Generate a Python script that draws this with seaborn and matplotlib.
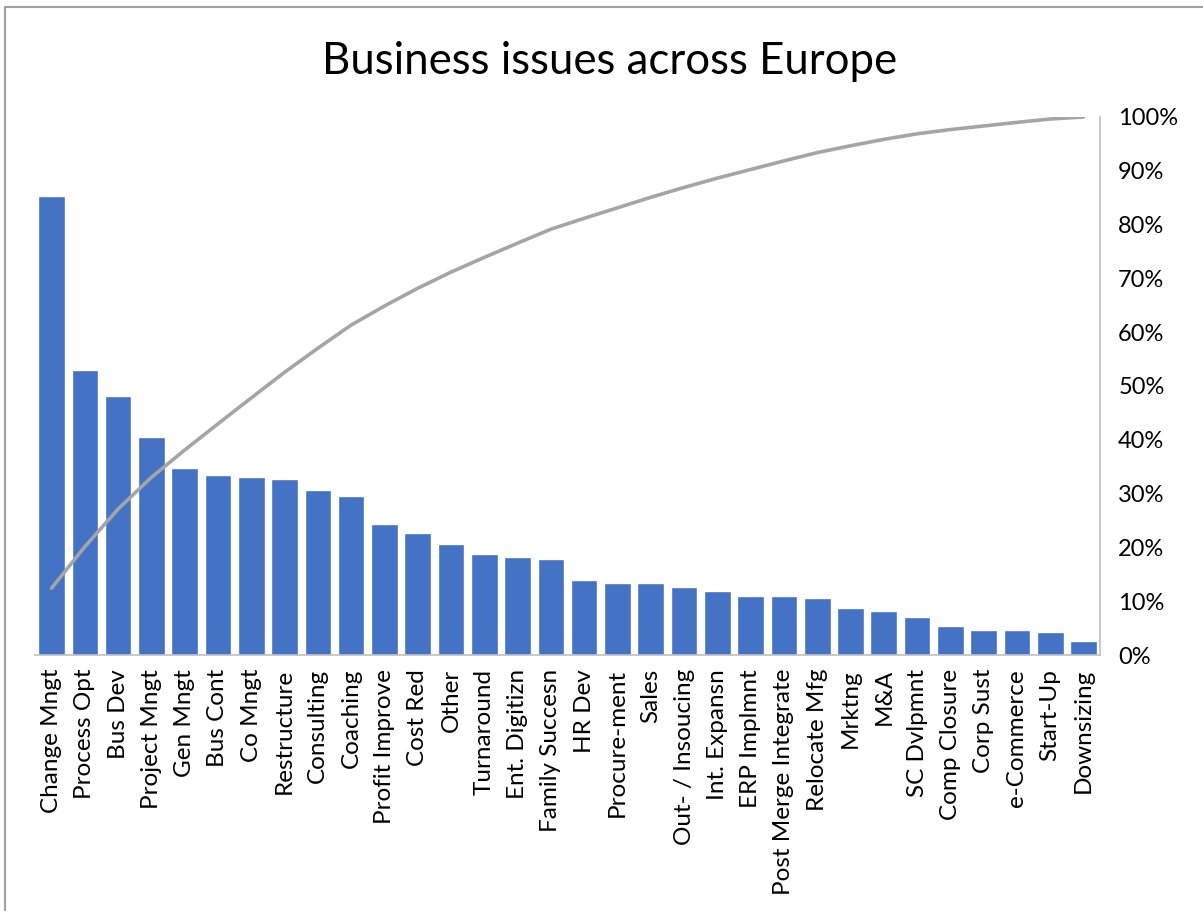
import matplotlib
matplotlib.use("Agg")
import matplotlib.pyplot as plt
from matplotlib.lines import Line2D
from matplotlib.ticker import PercentFormatter
import numpy as np
import pandas as pd
import seaborn as sns

# Business issues, sorted by frequency (share units)
issues = [
    "Change Mngt", "Process Opt", "Bus Dev", "Project Mngt", "Gen Mngt",
    "Bus Cont", "Co Mngt", "Restructure", "Consulting", "Coaching",
    "Profit Improve", "Cost Red", "Other", "Turnaround", "Ent. Digitizn",
    "Family Succesn", "HR Dev", "Procure-ment", "Sales", "Out- / Insoucing",
    "Int. Expansn", "ERP Implmnt", "Post Merge Integrate", "Relocate Mfg",
    "Mrktng", "M&A", "SC Dvlpmnt", "Comp Closure", "Corp Sust",
    "e-Commerce", "Start-Up", "Downsizing",
]
counts = [
    85.3, 53.0, 48.1, 40.5, 34.8,
    33.5, 33.1, 32.7, 30.7, 29.6,
    24.3, 22.7, 20.6, 18.8, 18.2,
    17.8, 13.9, 13.4, 13.4, 12.6,
    11.9, 11.0, 11.0, 10.6,
    8.7, 8.2, 7.1, 5.4, 4.6,
    4.6, 4.3, 2.6,
]
pct_ticks = [0, 0.1, 0.2, 0.3, 0.4, 0.5, 0.6, 0.7, 0.8, 0.9, 1.0]

df = pd.DataFrame({"issue": issues, "count": counts})
df["pos"] = np.arange(len(df))
df["cum_share"] = df["count"].cumsum() / df["count"].sum()

sns.set_theme(style="white")
plt.rcParams["font.family"] = ["Lato", "DejaVu Sans"]

BAR = "#4472C4"
LINE = "#A5A5A5"
AXIS = "#BFBFBF"

fig = plt.figure(figsize=(12.03, 9.11), dpi=100)
ax = fig.add_axes([0.029, 0.281, 0.8855, 0.5906])

sns.barplot(data=df, x="issue", y="count", color=BAR, saturation=1,
            width=0.8, ax=ax)
ax.set_xlim(-0.5, len(df) - 0.5)
ax.set_ylim(0, 100)
ax.set_xlabel("")
ax.set_ylabel("")
ax.set_yticks([])
ax.tick_params(axis="x", length=0, pad=10, labelsize=17.5, labelcolor="black")
for lbl in ax.get_xticklabels():
    lbl.set_rotation(90)
    lbl.set_va("top")
    lbl.set_ha("center")
for side in ("left", "top", "right"):
    ax.spines[side].set_visible(False)
ax.spines["bottom"].set_color(AXIS)
ax.spines["bottom"].set_linewidth(1.2)

# Cumulative share on the secondary axis
ax2 = ax.twinx()
sns.lineplot(data=df, x="pos", y="cum_share", color=LINE, linewidth=2.6,
             ax=ax2, legend=False)
ax2.set_xlim(-0.5, len(df) - 0.5)
ax2.set_ylim(0, 1)
ax2.set_yticks(pct_ticks)
ax2.yaxis.set_major_formatter(PercentFormatter(1.0, decimals=0))
ax2.set_ylabel("")
ax2.tick_params(axis="y", length=0, pad=13, labelsize=17, labelcolor="black")
for side in ("left", "top", "bottom"):
    ax2.spines[side].set_visible(False)
ax2.spines["right"].set_color(AXIS)
ax2.spines["right"].set_linewidth(1.2)

fig.suptitle("Business issues across Europe", x=0.507, y=0.955,
             fontsize=31.5, color="black", va="top")

# Chart frame edges
fig.add_artist(Line2D([0.0042, 0.0042], [0.0, 0.9925], color="#A0A0A0",
                      linewidth=1.5, transform=fig.transFigure))
fig.add_artist(Line2D([0.0042, 1.0], [0.9925, 0.9925], color="#A0A0A0",
                      linewidth=1.5, transform=fig.transFigure))

fig.savefig("out.png", dpi=100, facecolor="white")
